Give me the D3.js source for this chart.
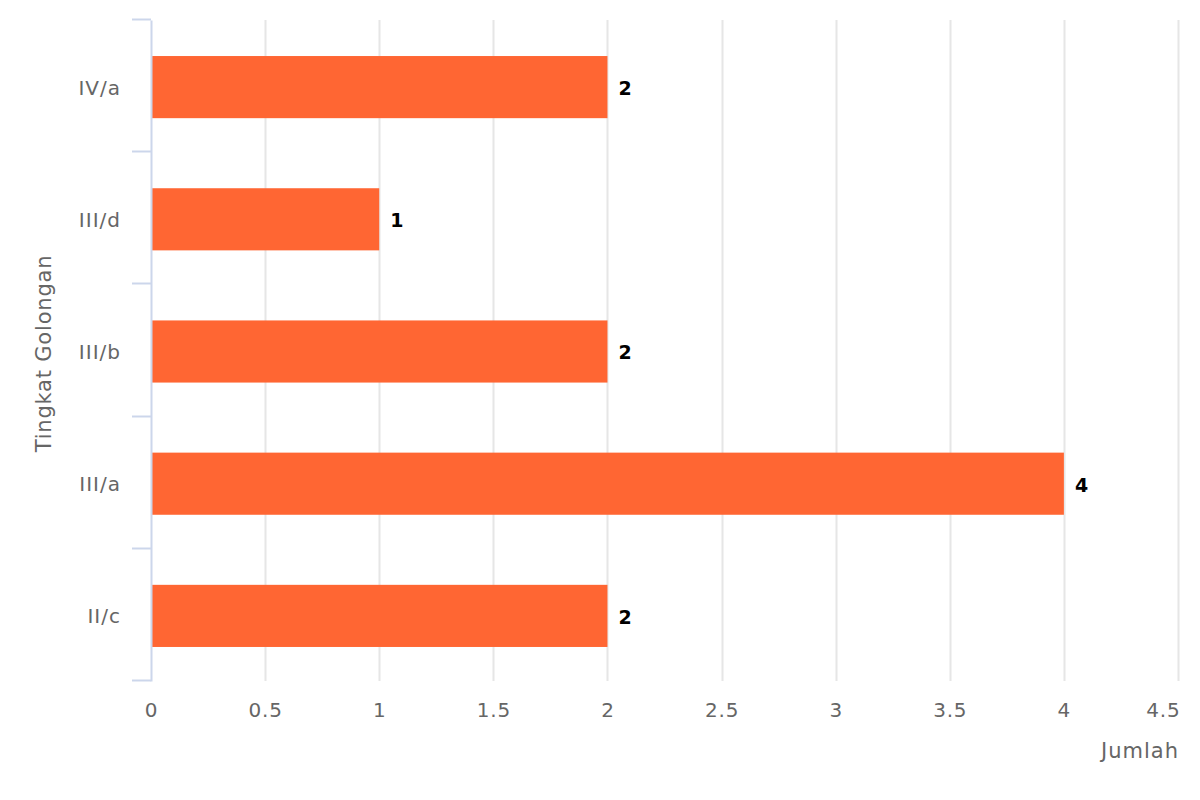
<!DOCTYPE html>
<html><head><meta charset="utf-8">
<script src="https://cdn.jsdelivr.net/npm/d3@7"></script>
<style>body{margin:0;background:#fff}svg{display:block;font-family:"DejaVu Sans",sans-serif}</style>
</head><body><svg id="c" width="1200" height="800"></svg>
<script>
const categories = ["IV/a", "III/d", "III/b", "III/a", "II/c"];
const values = [2, 1, 2, 4, 2];
const xTicks = [0, 0.5, 1, 1.5, 2, 2.5, 3, 3.5, 4, 4.5];
const xTitle = "Jumlah";
const yTitle = "Tingkat Golongan";

const svg = d3.select("#c");
const L = 151, R = 1178, T = 20, B = 681;
const x = d3.scaleLinear().domain([0, 4.5]).range([L, R]);
const y = d3.scaleBand().domain(categories).range([T, B]).paddingInner(0.53).paddingOuter(0.265);

// gridlines
svg.append("g").selectAll("line").data(xTicks.filter(d => d > 0)).join("line")
  .attr("x1", d => Math.round(x(d)) + 0.5).attr("x2", d => Math.round(x(d)) + 0.5)
  .attr("y1", T).attr("y2", B).attr("stroke", "#e6e6e6").attr("stroke-width", 2);

// bars
svg.append("g").selectAll("rect").data(values).join("rect")
  .attr("x", x(0) + 1).attr("y", (d, i) => y(categories[i]) + 1)
  .attr("width", d => x(d) - x(0) - 1).attr("height", y.bandwidth())
  .attr("fill", "#ff6633");

// data labels
svg.append("g").selectAll("text").data(values).join("text")
  .attr("x", d => x(d) + 11).attr("y", (d, i) => y(categories[i]) + y.bandwidth() / 2 + 2)
  .attr("dy", "0.36em").attr("font-size", 19).attr("font-weight", "bold").attr("fill", "#000")
  .text(d => d);

// y axis
const ya = d3.scaleBand().domain(categories).range([T, B]);
const yAxis = svg.append("g").attr("transform", `translate(${L},0)`)
  .call(d3.axisLeft(ya).tickSize(0).tickPadding(30));
yAxis.select(".domain").attr("stroke", "#ccd6eb").attr("stroke-width", 2);
yAxis.selectAll("text").attr("font-size", 20).attr("letter-spacing", 1).attr("fill", "#666")
  .attr("font-family", "DejaVu Sans").attr("dy", "0.42em");
// category boundary ticks
const bounds = categories.map(c => ya(c)).concat([B]);
svg.append("g").selectAll("line").data(bounds).join("line")
  .attr("x1", 132).attr("x2", L).attr("y1", d => Math.round(d) - 0.5).attr("y2", d => Math.round(d) - 0.5)
  .attr("stroke", "#ccd6eb").attr("stroke-width", 2);

// x axis labels
const xAxis = svg.append("g").attr("transform", `translate(0,${B})`)
  .call(d3.axisBottom(x).tickValues(xTicks).tickSize(0).tickPadding(22).tickFormat(d3.format("~g")));
xAxis.select(".domain").remove();
xAxis.selectAll("text").attr("font-size", 20).attr("letter-spacing", 0.8).attr("fill", "#666").attr("font-family", "DejaVu Sans");
xAxis.selectAll(".tick").filter(d => d === 4.5).select("text").attr("text-anchor", "end").attr("dx", 2);

// titles
svg.append("text").attr("x", R + 1).attr("y", 758).attr("text-anchor", "end")
  .attr("font-size", 21).attr("letter-spacing", 1).attr("fill", "#666").text(xTitle);
svg.append("text").attr("transform", `translate(51,${(T + B) / 2 + 3}) rotate(-90)`)
  .attr("text-anchor", "middle").attr("font-size", 21).attr("letter-spacing", 0.8).attr("fill", "#666").text(yTitle);
</script></body></html>
